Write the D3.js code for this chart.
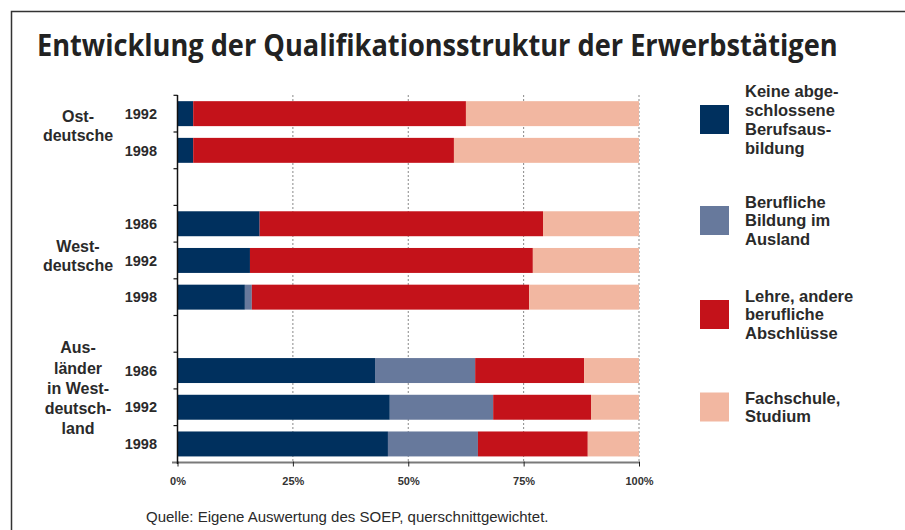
<!DOCTYPE html>
<html>
<head>
<meta charset="utf-8">
<script src="https://cdn.jsdelivr.net/npm/d3@7"></script>
<style>
  body { margin: 0; background: #fff; }
  svg { display: block; font-family: "Liberation Sans", Arial, sans-serif; }
</style>
</head>
<body>
<div id="chart-container"></div>
<script>
// Rows of the chart (empty keys are the gaps between groups)
const rowKeys = ["ost1992", "ost1998", "gap1", "west1986", "west1992", "west1998", "gap2", "ausl1986", "ausl1992", "ausl1998"];
const yearLabels = ["1992", "1998", "", "1986", "1992", "1998", "", "1986", "1992", "1998"];

// shares in percent
const keine   = [3.4, 3.4, null, 17.8, 15.7, 14.6, null, 42.8, 46.0, 45.6];
const ausland = [0.0, 0.0, null, 0.0, 0.0, 1.5, null, 21.7, 22.4, 19.5];
const lehre   = [59.1, 56.5, null, 61.4, 61.3, 60.1, null, 23.6, 21.2, 23.8];
const fach    = [37.5, 40.1, null, 20.8, 23.0, 23.8, null, 11.9, 10.4, 11.1];

const seriesNames = ["Keine abge-\nschlossene\nBerufsaus-\nbildung", "Berufliche\nBildung im\nAusland", "Lehre, andere\nberufliche\nAbschlüsse", "Fachschule,\nStudium"];
const seriesColors = ["#00305e", "#67799c", "#c4121a", "#f2b7a1"];

const groupLabels = ["Ost-\ndeutsche", "West-\ndeutsche", "Aus-\nländer\nin West-\ndeutsch-\nland"];
const xTicks = [0, 25, 50, 75, 100];

const width = 905, height = 530;

const svg = d3.select("#chart-container")
  .append("svg")
  .attr("width", width)
  .attr("height", height);

// frame (left and top only)
svg.append("path")
  .attr("d", "M11.5,530 L11.5,11.5 L905,11.5")
  .attr("fill", "none")
  .attr("stroke", "#333")
  .attr("stroke-width", 1.5);

// title - squeezed horizontally to look like the condensed original
const title = svg.append("text")
  .attr("x", 0)
  .attr("y", 0)
  .attr("font-family", "'Open Sans', sans-serif")
  .attr("font-weight", "bold")
  .attr("font-size", 31)
  .attr("fill", "#222")
  .text("Entwicklung der Qualifikationsstruktur der Erwerbstätigen");
const titleLen = title.node().getComputedTextLength();
title.attr("transform", `translate(37,56) scale(${801 / titleLen},1)`);

// scales
const x = d3.scaleLinear().domain([0, 100]).range([177.5, 639]);
const y = d3.scaleBand()
  .domain(rowKeys)
  .range([95.3, 462.3])
  .paddingInner(0.32)
  .paddingOuter(0.16);

// build stacked data
const rows = rowKeys.map((k, i) => ({
  key: k,
  keine: keine[i], ausland: ausland[i], lehre: lehre[i], fach: fach[i]
})).filter(d => d.keine !== null);

const stack = d3.stack().keys(["keine", "ausland", "lehre", "fach"]);
const stacked = stack(rows);

// gridlines
svg.append("g")
  .selectAll("line")
  .data(xTicks.slice(1))
  .join("line")
  .attr("x1", d => x(d))
  .attr("x2", d => x(d))
  .attr("y1", 95)
  .attr("y2", 462)
  .attr("stroke", "#888")
  .attr("stroke-width", 1)
  .attr("stroke-dasharray", "2,2");

// bars
svg.append("g")
  .selectAll("g")
  .data(stacked)
  .join("g")
  .attr("fill", (d, i) => seriesColors[i])
  .selectAll("rect")
  .data(d => d)
  .join("rect")
  .attr("x", d => x(d[0]))
  .attr("width", d => x(d[1]) - x(d[0]))
  .attr("y", d => y(d.data.key))
  .attr("height", y.bandwidth());

// bottom axis
const xAxis = svg.append("g")
  .attr("transform", "translate(0,462.5)")
  .call(d3.axisBottom(x)
    .tickValues(xTicks)
    .tickFormat(d => d + "%")
    .tickSize(4)
    .tickPadding(11));
xAxis.select(".domain").remove();
xAxis.insert("line", ":first-child")
  .attr("x1", 172)
  .attr("x2", 639)
  .attr("stroke", "#7a7a7a")
  .attr("stroke-width", 2);
xAxis.selectAll(".tick line").attr("stroke", "#222").attr("y1", -1);
xAxis.selectAll(".tick text")
  .attr("font-family", "'Liberation Sans', Arial, sans-serif")
  .attr("font-size", 11)
  .attr("font-weight", "bold")
  .attr("fill", "#333");

// left axis line and slot ticks
svg.append("line")
  .attr("x1", 177.5).attr("x2", 177.5)
  .attr("y1", 95).attr("y2", 464)
  .attr("stroke", "#111")
  .attr("stroke-width", 1.5);

const gapHalf = (y.step() - y.bandwidth()) / 2;
const boundaries = rowKeys.map(k => y(k) - gapHalf);
svg.append("g")
  .selectAll("line")
  .data(boundaries)
  .join("line")
  .attr("x1", 173.5)
  .attr("x2", 177.5)
  .attr("y1", d => d)
  .attr("y2", d => d)
  .attr("stroke", "#111")
  .attr("stroke-width", 1.2);

// year labels
svg.append("g")
  .selectAll("text")
  .data(rowKeys.map((k, i) => ({ key: k, label: yearLabels[i] })).filter(d => d.label))
  .join("text")
  .attr("x", 157)
  .attr("y", d => y(d.key) + y.bandwidth() / 2)
  .attr("dy", "0.36em")
  .attr("text-anchor", "end")
  .attr("font-size", 14.5)
  .attr("font-weight", "bold")
  .attr("fill", "#2a2a2a")
  .text(d => d.label);

// group labels (first line centre, line height)
const groupPos = [
  { top: y("ost1992") + y.bandwidth() / 2 + 3, lh: 19 },
  { top: y("west1992") + y.bandwidth() / 2 - 14, lh: 19 },
  { top: y("ausl1986") + y.bandwidth() / 2 - 23, lh: 20.2 }
];
groupLabels.forEach((lab, i) => {
  const t = svg.append("text")
    .attr("x", 78)
    .attr("text-anchor", "middle")
    .attr("font-size", 16)
    .attr("font-weight", "bold")
    .attr("fill", "#2a2a2a");
  lab.split("\n").forEach((line, j) => {
    t.append("tspan")
      .attr("x", 78)
      .attr("y", groupPos[i].top + j * groupPos[i].lh)
      .attr("dy", "0.36em")
      .text(line);
  });
});

// legend
const legendY = [119.5, 220.5, 314.5, 407];
const legend = svg.append("g")
  .selectAll("g")
  .data(seriesNames)
  .join("g")
  .attr("transform", (d, i) => `translate(700,${legendY[i]})`);

legend.append("rect")
  .attr("x", 0)
  .attr("y", -14.5)
  .attr("width", 29)
  .attr("height", 29)
  .attr("fill", (d, i) => seriesColors[i]);

legend.each(function (d) {
  const lines = d.split("\n");
  const lh = 18.8;
  const t = d3.select(this).append("text")
    .attr("font-size", 16.5)
    .attr("font-weight", "bold")
    .attr("fill", "#2a2a2a");
  lines.forEach((line, j) => {
    t.append("tspan")
      .attr("x", 45)
      .attr("y", (j - (lines.length - 1) / 2) * lh)
      .attr("dy", "0.36em")
      .text(line);
  });
});

// source note
svg.append("text")
  .attr("x", 146)
  .attr("y", 517)
  .attr("dy", "0.36em")
  .attr("font-size", 15)
  .attr("fill", "#2a2a2a")
  .text("Quelle: Eigene Auswertung des SOEP, querschnittgewichtet.");
</script>
</body>
</html>
